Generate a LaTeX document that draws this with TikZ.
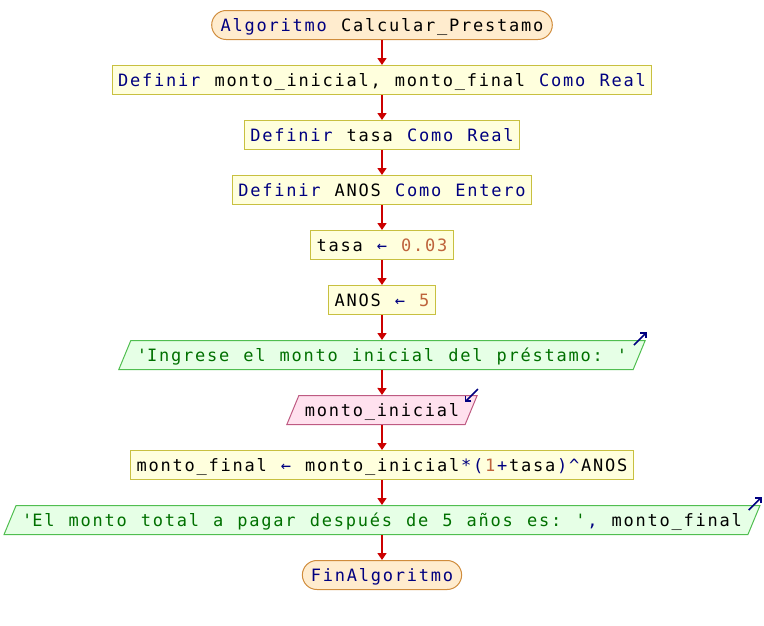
\documentclass[tikz,border=0pt]{standalone}
\usepackage{fontspec}
\setmonofont{DejaVu Sans Mono}[LetterSpace=10.4,WordSpace={1.172,0,0}]
\usepackage{tikz}
\usetikzlibrary{arrows.meta,shapes.geometric}

\definecolor{kwblue}{RGB}{0,0,128}
\definecolor{numbrown}{RGB}{190,100,60}
\definecolor{strgreen}{RGB}{0,112,0}
\definecolor{flowred}{RGB}{204,0,0}
\definecolor{procfill}{RGB}{255,255,221}
\definecolor{procborder}{RGB}{200,192,64}
\definecolor{termfill}{RGB}{255,236,206}
\definecolor{termborder}{RGB}{208,140,60}
\definecolor{outfill}{RGB}{230,255,230}
\definecolor{outborder}{RGB}{80,190,80}
\definecolor{infill}{RGB}{255,225,238}
\definecolor{inborder}{RGB}{190,90,130}

\newcommand{\kw}[1]{\textcolor{kwblue}{#1}}
\newcommand{\numtxt}[1]{\textcolor{numbrown}{#1}}
\newcommand{\strtxt}[1]{\textcolor{strgreen}{#1}}
\newcommand{\asg}{\kw{←}}
\newcommand{\q}{\textquotesingle}
\newcommand{\ls}{\kern1.768pt}

\tikzset{
  box/.style={draw, line width=1pt, font=\ttfamily\fontsize{17}{20}\selectfont,
    text height=18pt, text depth=5pt, inner xsep=6pt, inner ysep=3pt},
  procbox/.style={box, rectangle, draw=procborder, fill=procfill},
  termbox/.style={box, rectangle, rounded corners=14.5pt, draw=termborder,
    fill=termfill, inner xsep=9pt},
  outbox/.style={box, trapezium, trapezium left angle=67.5,
    trapezium right angle=112.5, draw=outborder, fill=outfill},
  inbox/.style={outbox, draw=inborder, fill=infill},
  flow/.style={draw=flowred, line width=1.6pt, -{Triangle[width=9pt,length=7pt]}},
  iomark/.style={draw=kwblue, line width=1.6pt, -{Straight Barb[length=4pt,width=8pt]}}
}

\begin{document}
\begin{tikzpicture}[x=1pt,y=-1pt]
  \useasboundingbox (0,0) rectangle (764,625);
  \node[termbox] (start) at (382,25) {\kw{Algoritmo} Calcular\_Prestamo};
  \node[procbox] (defmonto) at (382,80) {\kw{Definir} monto\_inicial, monto\_final \kw{Como Real}};
  \node[procbox] (deftasa) at (382,135) {\kw{Definir} tasa \kw{Como Real}};
  \node[procbox] (defanos) at (382,190) {\kw{Definir} ANOS \kw{Como Entero}};
  \node[procbox] (settasa) at (382,245) {tasa \asg{} \numtxt{0.03}};
  \node[procbox] (setanos) at (382,300) {ANOS \asg{} \numtxt{5}};
  \node[outbox] (askmsg) at (382,355) {\strtxt{\q Ingrese el monto inicial del préstamo: \q}};
  \node[inbox] (readmonto) at (382,410) {monto\_inicial};
  \node[procbox] (calc) at (382,465) {monto\_final \asg{} monto\_inicial\ls\kw{*(}\ls\numtxt{1}\ls\kw{+}\ls tasa\ls\kw{)\textasciicircum}\ls ANOS};
  \node[outbox] (result) at (382,520) {\strtxt{\q El monto total a pagar después de 5 años es: \q}\ls\kw{,} monto\_final};
  \node[termbox, inner xsep=8.5pt] (stop) at (382,575) {\kw{FinAlgoritmo}};

  % connectors
  \draw[flow] (start) -- (defmonto);
  \draw[flow] (defmonto) -- (deftasa);
  \draw[flow] (deftasa) -- (defanos);
  \draw[flow] (defanos) -- (settasa);
  \draw[flow] (settasa) -- (setanos);
  \draw[flow] (setanos) -- (askmsg);
  \draw[flow] (askmsg) -- (readmonto);
  \draw[flow] (readmonto) -- (calc);
  \draw[flow] (calc) -- (result);
  \draw[flow] (result) -- (stop);

  % in/out marks
  \draw[iomark] ([shift={(-12,5)}]askmsg.top right corner) -- ([shift={(1,-8)}]askmsg.top right corner);
  \draw[iomark] ([shift={(0,-6)}]readmonto.top right corner) -- ([shift={(-13,7)}]readmonto.top right corner);
  \draw[iomark] ([shift={(-12,5)}]result.top right corner) -- ([shift={(1,-8)}]result.top right corner);
\end{tikzpicture}
\end{document}
